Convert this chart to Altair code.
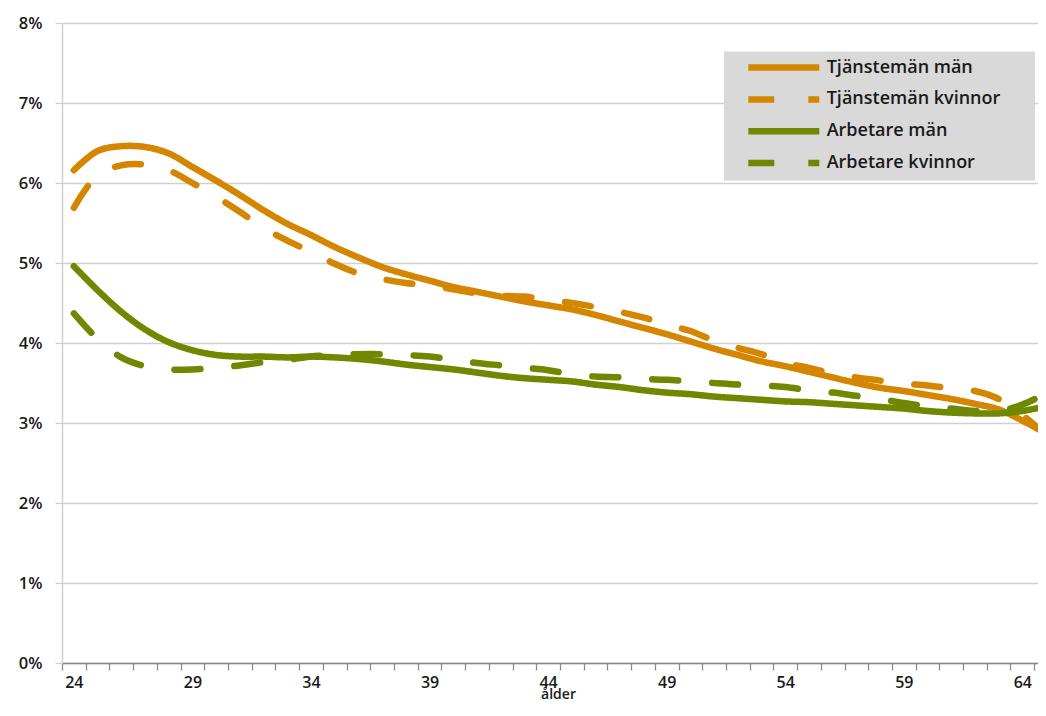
import altair as alt
import pandas as pd

ages = list(range(24, 66))

series_names = ["Tjänstemän män", "Tjänstemän kvinnor", "Arbetare män", "Arbetare kvinnor"]

tj_man = [6.16, 6.40, 6.46, 6.45, 6.37, 6.20, 6.03, 5.85, 5.66, 5.49, 5.35, 5.20, 5.07, 4.95,
          4.86, 4.78, 4.70, 4.64, 4.58, 4.52, 4.47, 4.42, 4.35, 4.27, 4.19, 4.11, 4.02, 3.93,
          3.85, 3.77, 3.71, 3.64, 3.57, 3.50, 3.44, 3.40, 3.35, 3.30, 3.24, 3.17, 3.03, 2.87]
tj_kv = [5.69, 6.10, 6.22, 6.23, 6.16, 6.00, 5.83, 5.64, 5.44, 5.28, 5.14, 4.99, 4.87, 4.80,
         4.75, 4.72, 4.67, 4.62, 4.59, 4.58, 4.54, 4.50, 4.45, 4.39, 4.32, 4.23, 4.15, 4.03,
         3.94, 3.86, 3.75, 3.69, 3.62, 3.57, 3.53, 3.49, 3.47, 3.43, 3.40, 3.30, 3.10, 2.85]
arb_man = [4.96, 4.66, 4.39, 4.17, 4.01, 3.91, 3.85, 3.83, 3.83, 3.82, 3.83, 3.82, 3.80, 3.77,
           3.73, 3.70, 3.67, 3.63, 3.59, 3.56, 3.54, 3.52, 3.48, 3.45, 3.41, 3.38, 3.36, 3.33,
           3.31, 3.29, 3.27, 3.26, 3.24, 3.22, 3.20, 3.18, 3.15, 3.13, 3.12, 3.12, 3.15, 3.21]
arb_kv = [4.37, 4.05, 3.82, 3.71, 3.67, 3.67, 3.69, 3.72, 3.76, 3.79, 3.83, 3.85, 3.86, 3.86,
          3.85, 3.83, 3.79, 3.75, 3.72, 3.69, 3.66, 3.61, 3.58, 3.57, 3.55, 3.54, 3.52, 3.50,
          3.48, 3.47, 3.45, 3.41, 3.38, 3.34, 3.30, 3.25, 3.21, 3.18, 3.15, 3.15, 3.23, 3.37]

y_ticks = [0, 1, 2, 3, 4, 5, 6, 7, 8]
x_ticks = [a - 0.5 for a in ages]  # category boundaries

colors = ["#D58600", "#D58600", "#708700", "#708700"]
dashes = [[1, 0], [26, 34], [1, 0], [26, 34]]

rows = []
for k, (name, vals) in enumerate(zip(series_names, [tj_man, tj_kv, arb_man, arb_kv])):
    for a, v in zip(ages, vals):
        rows.append({"ålder": a, "värde": v, "serie": name, "ordning": k})
df = pd.DataFrame(rows)

FONT = "Open Sans"
TXT = "#1a1a1a"

chart = alt.Chart(df).mark_line(
    strokeWidth=6.5, strokeCap="round", strokeJoin="round", interpolate="catmull-rom", clip=True
).encode(
    x=alt.X("ålder:Q",
            scale=alt.Scale(domain=[23.5, 64.66], nice=False, zero=False),
            axis=alt.Axis(values=x_ticks, title="ålder", grid=False,
                          labelExpr="(datum.value + 0.5) % 5 == 4 ? format(datum.value + 0.5, 'd') : ''",
                          labelOffset=11.85, labelFlush=False, labelOverlap=False, labelBound=False,
                          labelPadding=4, labelFontSize=16, labelFont=FONT, labelFontWeight=600,
                          labelColor=TXT, tickSize=7, tickColor="#8a8a8a", tickWidth=1.3,
                          domainColor="#8a8a8a", domainWidth=1.5,
                          titleFont=FONT, titleFontSize=14, titleFontWeight=600, titleColor=TXT,
                          titleX=496, titleY=35, titleAlign="center", titleBaseline="alphabetic")),
    y=alt.Y("värde:Q",
            scale=alt.Scale(domain=[0, 8], nice=False),
            axis=alt.Axis(values=y_ticks, title=None, grid=True, gridColor="#d0d0d0", gridWidth=1.3,
                          labelExpr="datum.value + '%'", labelPadding=13, labelFontSize=16.5,
                          labelFont=FONT, labelFontWeight=600, labelColor=TXT,
                          tickSize=7, tickColor="#d0d0d0", tickWidth=1.3,
                          domainColor="#d0d0d0", domainWidth=1.5)),
    color=alt.Color("serie:N",
                    scale=alt.Scale(domain=series_names, range=colors),
                    legend=alt.Legend(title=None, orient="none", legendX=662, legendY=28.6,
                                      fillColor="#d9d9d9", padding=8, symbolType="stroke",
                                      symbolSize=5041, symbolStrokeWidth=6.5, symbolOffset=12.8,
                                      clipHeight=16, rowPadding=13.8, labelOffset=3.9,
                                      labelFont=FONT, labelFontSize=18, labelFontWeight=600,
                                      labelColor=TXT, labelLimit=400,
                                      labelExpr="datum.label + '\u2800\u2800'")),
    strokeDash=alt.StrokeDash("serie:N",
                              scale=alt.Scale(domain=series_names, range=dashes),
                              legend=alt.Legend(title=None, orient="none", legendX=662, legendY=28.6)),
    order=alt.Order("ordning:Q"),
).properties(
    width=976, height=640,
    autosize=alt.AutoSizeParams(type="none"),
    padding={"left": 54, "top": 15, "right": 0, "bottom": 39},
).configure_view(stroke=None).configure(background="white")

chart.save("out.html", embed_options={"renderer": "svg", "actions": False})
